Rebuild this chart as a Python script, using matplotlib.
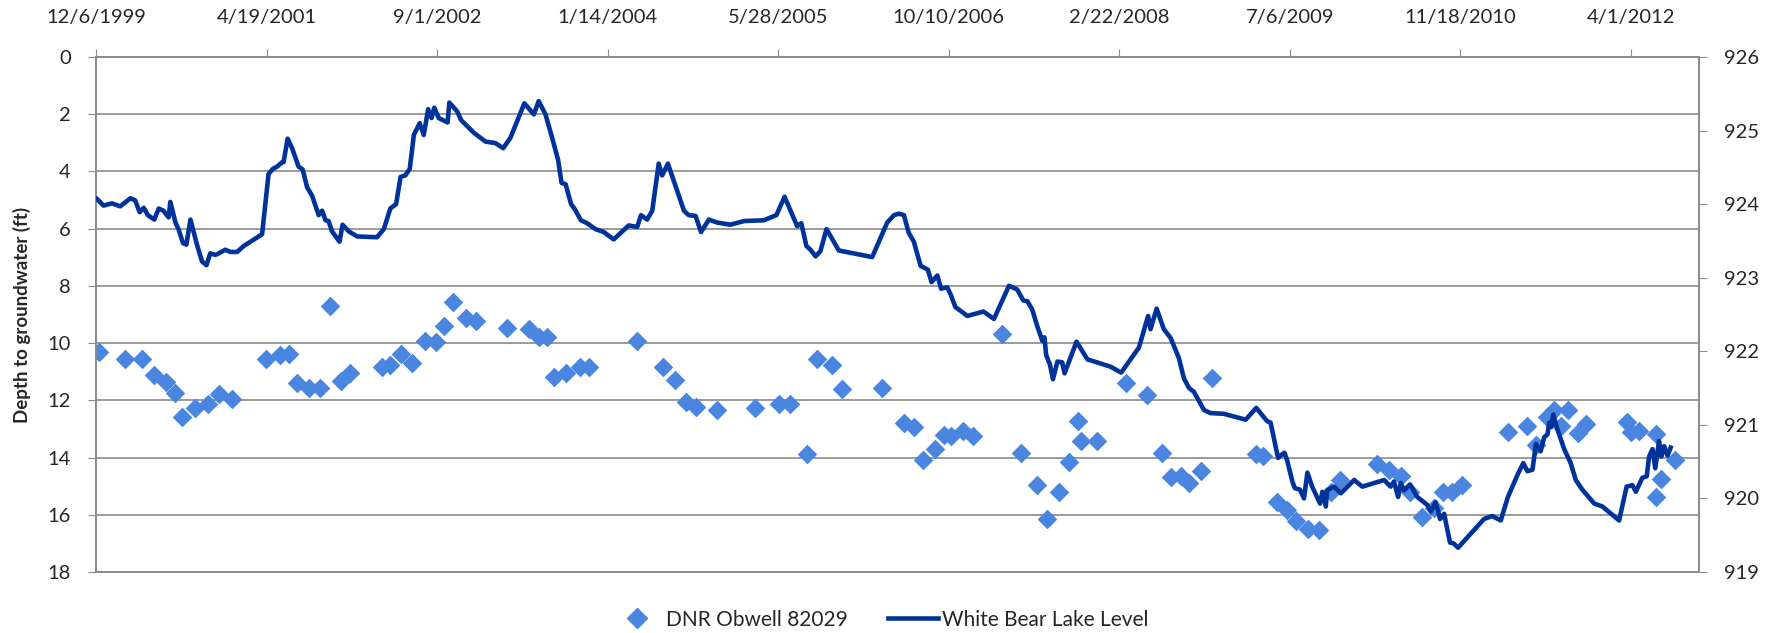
import matplotlib.pyplot as plt
from matplotlib.lines import Line2D
import pandas as pd

# dates are Excel day serials (the sheet behind the chart)
well_day = [36508, 36586, 36635, 36669, 36706, 36731, 36753, 36789, 36828, 36860,
            36899, 36999, 37041, 37067, 37090, 37124, 37156, 37187, 37219, 37244,
            37339, 37363, 37395, 37427, 37466, 37498, 37520, 37546, 37586, 37615,
            37705, 37771, 37800, 37823, 37842, 37877, 37920, 37947, 38085, 38162,
            38197, 38230, 38258, 38321, 38432, 38502, 38534, 38585, 38615, 38657,
            38686, 38805, 38869, 38898, 38925, 38959, 38986, 39006, 39042, 39071,
            39157, 39213, 39258, 39289, 39324, 39353, 39380, 39389, 39436, 39519,
            39581, 39625, 39653, 39680, 39705, 39739, 39771, 39900, 39923, 39962,
            39993, 40018, 40055, 40086, 40120, 40148, 40257, 40291, 40326, 40353,
            40389, 40423, 40451, 40477, 40506, 40640, 40695, 40721, 40756, 40775,
            40797, 40816, 40844, 40868, 40990, 41000, 41025, 41073, 41130, 41088,
            41073]
well_depth = [10.32, 10.56, 10.56, 11.13, 11.35, 11.74, 12.59, 12.26, 12.12, 11.78,
              11.96, 10.56, 10.40, 10.37, 11.41, 11.58, 11.56, 8.69, 11.32, 11.05,
              10.84, 10.76, 10.37, 10.70, 9.93, 9.95, 9.40, 8.55, 9.14, 9.22,
              9.46, 9.52, 9.79, 9.78, 11.19, 11.03, 10.85, 10.82, 9.93, 10.82,
              11.29, 12.06, 12.23, 12.35, 12.26, 12.14, 12.14, 13.89, 10.56, 10.76,
              11.62, 11.56, 12.80, 12.92, 14.09, 13.71, 13.22, 13.24, 13.06, 13.24,
              9.67, 13.83, 14.95, 16.16, 15.22, 14.15, 12.71, 13.42, 13.42, 11.41,
              11.82, 13.85, 14.68, 14.63, 14.89, 14.46, 11.21, 13.89, 13.95, 15.54,
              15.84, 16.23, 16.49, 16.52, 15.19, 14.78, 14.24, 14.42, 14.66, 15.19,
              16.08, 15.75, 15.20, 15.19, 14.95, 13.12, 12.91, 13.57, 12.59, 12.35,
              12.91, 12.33, 13.16, 12.83, 12.77, 13.12, 13.06, 13.18, 14.09, 14.75,
              15.39]

lake_day = [36503, 36522, 36547, 36571, 36601, 36615, 36628, 36640, 36652, 36671,
            36684, 36698, 36713, 36718, 36733, 36742, 36755, 36765, 36777, 36796,
            36811, 36824, 36835, 36850, 36860, 36879, 36894, 36914, 36933, 36987,
            37006, 37019, 37031, 37046, 37050, 37062, 37075, 37094, 37106, 37119,
            37134, 37153, 37163, 37173, 37182, 37192, 37214, 37223, 37241, 37266,
            37324, 37344, 37363, 37380, 37393, 37407, 37420, 37432, 37449, 37461,
            37474, 37484, 37492, 37505, 37531, 37536, 37559, 37571, 37608, 37642,
            37671, 37694, 37715, 37756, 37784, 37798, 37818, 37837, 37855, 37865,
            37877, 37893, 37904, 37922, 37940, 37965, 37989, 38018, 38062, 38087,
            38098, 38116, 38131, 38150, 38160, 38177, 38199, 38224, 38238, 38258,
            38274, 38297, 38321, 38360, 38400, 38458, 38495, 38519, 38556, 38568,
            38583, 38595, 38610, 38624, 38642, 38678, 38776, 38820, 38840, 38854,
            38869, 38883, 38898, 38918, 38939, 38950, 38967, 38978, 38996, 39006,
            39020, 39035, 39055, 39102, 39133, 39177, 39201, 39219, 39231, 39245,
            39260, 39275, 39281, 39286, 39297, 39306, 39319, 39333, 39340, 39353,
            39375, 39407, 39475, 39506, 39558, 39585, 39592, 39610, 39631, 39651,
            39675, 39690, 39705, 39719, 39749, 39768, 39807, 39871, 39902, 39934,
            39944, 39966, 39978, 39985, 39993, 40008, 40015, 40030, 40042, 40052,
            40066, 40089, 40096, 40106, 40110, 40130, 40150, 40189, 40213, 40277,
            40296, 40306, 40318, 40326, 40335, 40353, 40374, 40404, 40414, 40428,
            40441, 40453, 40470, 40480, 40494, 40521, 40570, 40594, 40619, 40640,
            40670, 40685, 40697, 40712, 40722, 40736, 40746, 40756, 40761, 40767,
            40773, 40785, 40805, 40824, 40839, 40858, 40893, 40917, 40966, 40988,
            41005, 41015, 41034, 41047, 41054, 41064, 41072, 41083, 41090, 41098,
            41108, 41117]
lake_level = [924.07, 923.98, 924.01, 923.97, 924.08, 924.05, 923.89, 923.95, 923.85, 923.79,
              923.94, 923.91, 923.82, 924.03, 923.75, 923.66, 923.47, 923.45, 923.79, 923.45,
              923.22, 923.17, 923.33, 923.31, 923.33, 923.38, 923.35, 923.35, 923.43, 923.59,
              924.41, 924.48, 924.51, 924.57, 924.57, 924.89, 924.76, 924.51, 924.47, 924.23,
              924.11, 923.85, 923.91, 923.78, 923.77, 923.63, 923.49, 923.72, 923.63, 923.56,
              923.55, 923.66, 923.94, 924.00, 924.37, 924.39, 924.48, 924.94, 925.10, 924.94,
              925.29, 925.17, 925.31, 925.17, 925.11, 925.38, 925.26, 925.14, 924.97, 924.85,
              924.83, 924.76, 924.90, 925.37, 925.22, 925.40, 925.22, 924.91, 924.60, 924.29,
              924.27, 924.00, 923.93, 923.78, 923.74, 923.66, 923.62, 923.52, 923.71, 923.69,
              923.85, 923.79, 923.91, 924.55, 924.39, 924.55, 924.25, 923.91, 923.85, 923.84,
              923.62, 923.79, 923.75, 923.72, 923.77, 923.78, 923.85, 924.10, 923.70, 923.74,
              923.43, 923.38, 923.29, 923.36, 923.66, 923.37, 923.28, 923.75, 923.85, 923.87,
              923.85, 923.61, 923.49, 923.16, 923.11, 922.94, 923.03, 922.85, 922.87, 922.77,
              922.60, 922.55, 922.48, 922.54, 922.44, 922.89, 922.84, 922.69, 922.68, 922.57,
              922.34, 922.14, 922.19, 921.95, 921.82, 921.62, 921.86, 921.85, 921.70, 921.86,
              922.13, 921.89, 921.79, 921.71, 922.05, 922.48, 922.30, 922.58, 922.30, 922.18,
              921.91, 921.63, 921.50, 921.45, 921.20, 921.16, 921.15, 921.07, 921.23, 921.05,
              921.03, 920.55, 920.60, 920.62, 920.51, 920.23, 920.14, 920.12, 920.00, 920.35,
              920.16, 919.93, 920.09, 919.89, 920.11, 920.16, 920.07, 920.25, 920.16, 920.25,
              920.16, 920.23, 920.02, 920.21, 920.11, 920.19, 920.02, 919.91, 919.82, 919.95,
              919.72, 919.79, 919.40, 919.39, 919.33, 919.47, 919.72, 919.76, 919.70, 920.02,
              920.34, 920.48, 920.37, 920.39, 920.74, 920.64, 920.83, 920.87, 921.03, 920.97,
              921.14, 920.94, 920.67, 920.48, 920.25, 920.12, 919.93, 919.89, 919.70, 920.16,
              920.18, 920.09, 920.28, 920.30, 920.57, 920.67, 920.41, 920.78, 920.57, 920.71,
              920.58, 920.69]

depth_ticks = list(range(0, 19, 2))
level_ticks = list(range(919, 927))


def xl_date(serials):
    return pd.to_datetime(pd.Series(serials), unit='D', origin='1899-12-30')


plt.rcParams['font.family'] = ['Lato', 'DejaVu Sans']
txt = '#262626'
gray = '#8a8a8a'

fig = plt.figure(figsize=(17.71, 6.33), dpi=100)
ax = fig.add_axes([0.0542, 0.0964, 0.9051, 0.8136])
ax2 = ax.twinx()

ax.scatter(xl_date(well_day), well_depth, marker='D', s=100, color='#4A86E0',
           linewidths=0, zorder=3)
ax2.plot(xl_date(lake_day), lake_level, color='#00339A', lw=3.3, zorder=3)

# date axis sits on top because the depth axis runs downward
tick_days = list(range(36500, 41201, 500))
tick_dates = xl_date(tick_days)
ax.set_xlim(xl_date([36500])[0], xl_date([41200])[0])
ax.set_xticks(tick_dates)
ax.set_xticklabels([f'{d.month}/{d.day}/{d.year}' for d in tick_dates])
ax.xaxis.tick_top()

ax.set_ylim(18, 0)
ax.set_yticks(depth_ticks)
ax2.set_ylim(919, 926)
ax2.set_yticks(level_ticks)

ax.yaxis.grid(True, color=gray, lw=1.2)
ax.set_axisbelow(True)

for a in (ax, ax2):
    for s in a.spines.values():
        s.set_color(gray)
        s.set_linewidth(1.2)
ax.tick_params(axis='x', top=True, bottom=False, direction='out', length=6,
               color=gray, labelsize=14.5, labelcolor=txt, pad=16)
ax.tick_params(axis='y', direction='out', length=6, color=gray,
               labelsize=14.5, labelcolor=txt, pad=12)
ax2.tick_params(axis='y', direction='out', length=6, color=gray,
                labelsize=14.5, labelcolor=txt, pad=12)

ax.set_ylabel('Depth to groundwater (ft)', fontsize=13.5, fontweight='bold',
              color=txt, labelpad=12)

handles = [Line2D([], [], marker='D', ls='none', color='#4A86E0', markersize=10),
           Line2D([], [], color='#00339A', lw=3.3)]
fig.legend(handles, ['DNR Obwell 82029', 'White Bear Lake Level'], loc='center',
           bbox_to_anchor=(0.497, 0.021), ncol=2, frameon=False, fontsize=15,
           handlelength=2.4, handletextpad=0.2, columnspacing=1.9, labelcolor=txt)

fig.savefig('out.png', dpi=100)
